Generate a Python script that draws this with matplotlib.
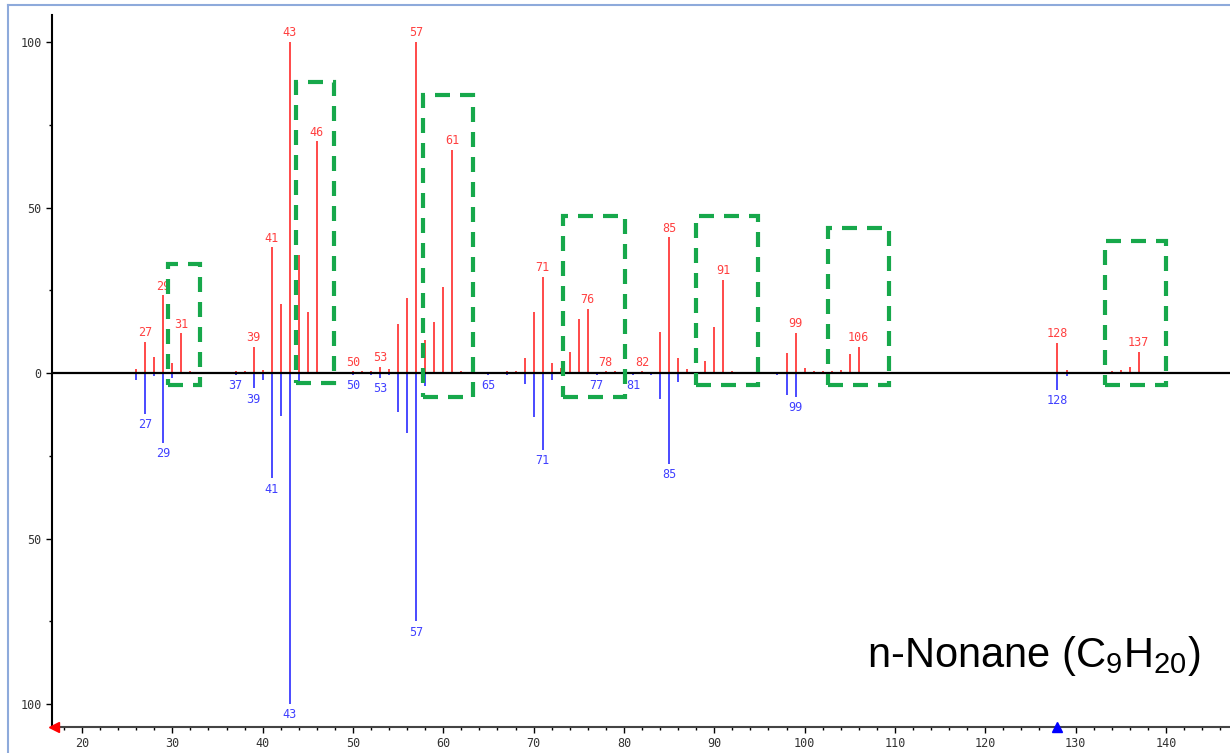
#Mass spectrum comparison of n-Nonane : measured (top, red) vs library (bottom, blue)

import numpy as np
import matplotlib
matplotlib.use("Agg")
import matplotlib.pyplot as plt
from matplotlib.patches import Rectangle
from matplotlib.lines import Line2D

plt.rcParams['font.family'] = ['Liberation Sans', 'DejaVu Sans']
plt.rcParams['mathtext.fontset'] = 'custom'
plt.rcParams['mathtext.rm'] = 'Liberation Sans'

#measured spectrum (m/z, relative intensity)
mz_top = [26, 27, 28, 29, 30, 31, 32, 37, 38, 39, 40, 41, 42, 43, 44, 45, 46,
          50, 51, 52, 53, 54, 55, 56, 57, 58, 59, 60, 61, 62,
          66, 67, 68, 69, 70, 71, 72, 73, 74, 75, 76, 77, 78, 79, 82,
          84, 85, 86, 87, 89, 90, 91, 92, 98, 99, 100, 101, 102, 103, 104, 105, 106,
          128, 129, 130, 134, 135, 136, 137]
int_top = [1.2, 9.4, 5, 23.5, 3, 12, 0.5, 0.5, 0.5, 8, 1, 38, 21, 100, 35.7, 18.5, 70,
           0.5, 0.5, 0.7, 2, 1.2, 14.8, 22.8, 100, 10, 15.5, 26, 67.5, 0.5,
           0.3, 0.8, 0.5, 4.5, 18.5, 29, 3.1, 1.7, 6.5, 16.3, 19.5, 0.3, 0.5, 0.5, 0.5,
           12.3, 41, 4.5, 1.2, 3.6, 13.8, 28.1, 0.5, 6, 12.2, 1.7, 0.5, 0.5, 0.5, 1.1, 5.7, 8,
           9.2, 1.1, 0.3, 0.5, 0.9, 2, 6.4]

#library spectrum, drawn downwards
mz_bot = [26, 27, 28, 29, 30, 37, 39, 40, 41, 42, 43, 44,
          50, 52, 53, 54, 55, 56, 57, 58, 65, 67, 69, 70, 71, 72,
          77, 81, 83, 84, 85, 86, 97, 98, 99, 128, 129]
int_bot = [2, 12.4, 1, 21, 1.5, 0.5, 4.6, 2, 31.8, 13, 100, 2.5,
           0.5, 0.5, 1.5, 0.5, 11.7, 18, 75, 4, 0.5, 0.5, 3.4, 13.2, 23.3, 2.1,
           0.5, 0.5, 0.5, 7.9, 27.4, 2.6, 0.5, 6.7, 7.2, 5, 1]

red_labels = [27, 29, 31, 39, 41, 43, 46, 50, 53, 57, 61, 71, 76, 78, 82, 85, 91, 99, 106, 128, 137]
blue_labels = [27, 29, 37, 39, 41, 43, 50, 53, 57, 65, 71, 77, 81, 85, 99, 128]

#highlighted regions: (mz from, mz to, bottom, top)
box_lo = [29.5, 43.7, 57.8, 73.3, 88.0, 102.6, 133.3]
box_hi = [33.1, 47.9, 63.3, 80.1, 94.8, 109.4, 140.0]
box_bottom = [-3.6, -3.0, -7.3, -7.3, -3.6, -3.6, -3.6]
box_top = [32.9, 87.9, 84.0, 47.4, 47.4, 43.8, 39.9]

W, H = 1230, 753
fig = plt.figure(figsize=(W/100, H/100), dpi=100)
ax = fig.add_axes([52/W, (H-727)/H, (W-52)/W, (727-15)/H])

red = '#ff2a2a'
blue = '#2b2bff'
ax.vlines(mz_top, 0, int_top, color=red, lw=1.2)
ax.vlines(mz_bot, 0, -np.array(int_bot), color=blue, lw=1.2)
ax.axhline(0, color='black', lw=1.6, zorder=3)

top_lookup = dict(zip(mz_top, int_top))
bot_lookup = dict(zip(mz_bot, int_bot))
for m in red_labels:
    ax.annotate(str(m), (m, top_lookup[m]), xytext=(0, 2), textcoords='offset points',
                ha='center', va='bottom', color='#ff4040', fontsize=8.5, family='DejaVu Sans Mono')
for m in blue_labels:
    ax.annotate(str(m), (m, -bot_lookup[m]), xytext=(0, -3), textcoords='offset points',
                ha='center', va='top', color='#4040ff', fontsize=8.5, family='DejaVu Sans Mono')

for lo, hi, b, t in zip(box_lo, box_hi, box_bottom, box_top):
    ax.add_patch(Rectangle((lo, b), hi-lo, t-b, fill=False, edgecolor='#17a84b',
                           lw=3, ls=(0, (3.6, 2.4)), zorder=5))

ax.set_xlim(16.68, 147.1)
ax.set_ylim(-106.9, 108.2)
ax.spines['top'].set_visible(False)
ax.spines['right'].set_visible(False)
ax.spines['left'].set_linewidth(1.5)
ax.spines['bottom'].set_linewidth(1.5)
ax.spines['bottom'].set_color('#444444')

ax.set_xticks(np.arange(20, 150, 10))
ax.set_xticks(np.arange(18, 148, 2), minor=True)
yt = [-100, -50, 0, 50, 100]
ax.set_yticks(yt)
ax.set_yticklabels([str(abs(v)) for v in yt])
ax.set_yticks([-75, -25, 25, 75], minor=True)
ax.tick_params(axis='both', which='major', labelsize=8.5, labelcolor='#333333', length=4, width=1)
ax.tick_params(axis='both', which='minor', length=2.5, width=1)
for lab in ax.get_xticklabels() + ax.get_yticklabels():
    lab.set_family('DejaVu Sans Mono')

#cursor markers on the mass axis
ax.plot([16.9], [-106.9], marker='<', color='red', ms=7, clip_on=False, zorder=6)
ax.plot([128], [-106.9], marker='^', color='blue', ms=7, clip_on=False, zorder=6)

fig.text(1200/W, 1-667/H, r'n-Nonane (C$_{\mathrm{9}}$H$_{\mathrm{20}}$)', ha='right', va='baseline',
         fontsize=30, color='black')

#light frame around the screenshot
fig.add_artist(Line2D([8/W, 8/W], [0, 1-5/H], color='#8eaadb', lw=1.5))
fig.add_artist(Line2D([8/W, 1], [1-5/H, 1-5/H], color='#8eaadb', lw=1.5))

plt.savefig('out.png', dpi=100)
